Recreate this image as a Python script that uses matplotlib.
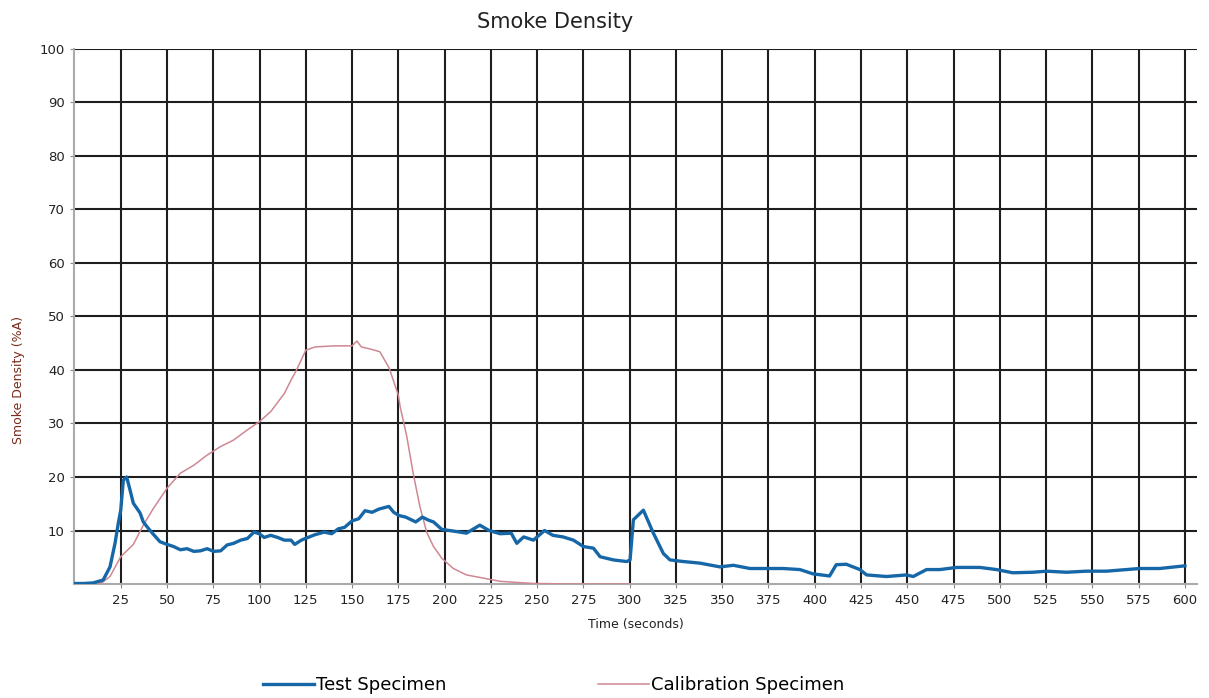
import numpy as np
import matplotlib.pyplot as plt

# test specimen (blue)
test_t = [0, 5, 10, 15.5, 19.2, 21.9, 23.7, 25, 26.4, 28.2, 30, 31.8, 33.6, 35.4, 37.2, 39.9,
          42.6, 46.2, 50, 53.6, 57.2, 60.8, 64.5, 68, 71.7, 75.2, 79, 82.5, 86, 89.8, 93.4,
          97, 99.8, 102.5, 106, 109.8, 113.4, 117, 119, 122.6, 126.2, 129.8, 135, 139, 142.5,
          146, 150, 153.6, 157, 160.8, 164.5, 169.9, 172.5, 175.3, 179, 184.4, 188, 191.5,
          194, 198.5, 206.5, 211.8, 219, 224, 230, 236, 239, 242.7, 248, 254, 258.5, 264,
          269.6, 275, 280.4, 284, 291.2, 298.4, 300.2, 302, 307.4, 312.8, 318.2, 321.8, 329,
          338, 348.8, 356, 365, 374, 383, 392, 399, 408, 411.6, 417, 424.4, 428, 438.8,
          449.6, 453.2, 460.4, 467.6, 476.6, 489.2, 498.2, 507, 518, 525.2, 536, 546.8,
          557.6, 568.4, 575.6, 586.4, 600]
test_v = [0.1, 0.1, 0.2, 0.75, 3.2, 7.6, 11.4, 13.8, 19.4, 20.0, 17.6, 15.1, 14.2, 13.3, 11.6, 10.4,
          9.3, 7.9, 7.4, 7.0, 6.4, 6.6, 6.1, 6.2, 6.6, 6.1, 6.2, 7.3, 7.6, 8.2, 8.5,
          9.7, 9.4, 8.7, 9.1, 8.7, 8.2, 8.2, 7.4, 8.2, 8.7, 9.2, 9.7, 9.4, 10.3,
          10.6, 11.8, 12.2, 13.7, 13.4, 14.0, 14.5, 13.4, 12.8, 12.5, 11.6, 12.5, 11.9,
          11.6, 10.2, 9.8, 9.5, 11.0, 10.0, 9.4, 9.5, 7.6, 8.8, 8.2, 10.0, 9.1, 8.8,
          8.2, 7.0, 6.7, 5.1, 4.5, 4.2, 4.5, 12.0, 13.8, 9.5, 5.7, 4.5, 4.2,
          3.9, 3.2, 3.5, 2.9, 2.9, 2.9, 2.7, 1.9, 1.5, 3.6, 3.7, 2.7, 1.7, 1.4,
          1.7, 1.4, 2.7, 2.7, 3.1, 3.1, 2.7, 2.1, 2.2, 2.4, 2.2, 2.4,
          2.4, 2.7, 2.9, 2.9, 3.4]

# calibration specimen (pink)
cal_t = [0, 10, 15, 19.2, 25, 31.8, 37.2, 42.6, 50, 57.2, 64.5, 71.7, 79, 86, 93.4, 99.8,
         106, 113.4, 117, 120, 125, 130, 140, 150, 152.6, 155, 160, 165, 170, 175, 176,
         179.6, 183, 186.7, 190.3, 194, 198.5, 204.7, 211.8, 221, 230, 248, 270, 300]
cal_v = [0, 0.1, 0.3, 1.4, 5.1, 7.4, 11.0, 14.1, 17.9, 20.7, 22.2, 24.1, 25.7, 26.9, 28.8, 30.3,
         32.2, 35.6, 38.1, 40.0, 43.7, 44.3, 44.5, 44.5, 45.4, 44.3, 43.9, 43.4, 40.4, 35.3, 33.1,
         27.5, 20.7, 14.4, 9.7, 7.0, 4.8, 2.9, 1.7, 1.1, 0.5, 0.1, 0.0, 0.0]

x_ticks = list(range(25, 601, 25))
y_ticks = list(range(10, 101, 10))

fig = plt.figure(figsize=(12.09, 6.98), dpi=100)
ax = fig.add_axes([0.0616, 0.1633, 0.9284, 0.7667])

cal_line, = ax.plot(cal_t, cal_v, color="#cf8893", linewidth=1.1, label="Calibration Specimen", zorder=3)
test_line, = ax.plot(test_t, test_v, color="#1667a8", linewidth=2.4, label="Test Specimen", zorder=4)

ax.set_xlim(0, 606.5)
ax.set_ylim(0, 100)
ax.set_xticks(x_ticks)
ax.set_yticks(y_ticks)
ax.grid(True, color="#1e1e1e", linewidth=1.5)
ax.set_axisbelow(True)
ax.tick_params(axis="both", length=3, color="#888888", labelsize=9.5, labelcolor="#222222", pad=4)
for s in ["top", "right"]:
    ax.spines[s].set_visible(False)
for s in ["left", "bottom"]:
    ax.spines[s].set_color("#aaaaaa")
    ax.spines[s].set_linewidth(1.5)

fig.text(0.459, 0.968, "Smoke Density", ha="center", va="center", fontsize=15, color="#222222")
ax.set_xlabel("Time (seconds)", fontsize=9, color="#222222", labelpad=8)
fig.text(0.015, 0.455, "Smoke Density (%A)", rotation=90, ha="center", va="center",
         fontsize=9, color="#7a2a1a")

# two separate one-entry legends below the plot
leg_font = {"family": ["Liberation Sans Narrow", "DejaVu Sans"], "size": 13}
leg1 = fig.legend(handles=[test_line], loc="center left", bbox_to_anchor=(254 / 1209, 1 - 685 / 698),
                  frameon=False, borderpad=0, handlelength=2.8, handletextpad=0.15, prop=leg_font)
leg2 = fig.legend(handles=[cal_line], loc="center left", bbox_to_anchor=(589 / 1209, 1 - 685 / 698),
                  frameon=False, borderpad=0, handlelength=2.8, handletextpad=0.15, prop=leg_font)

fig.savefig("out.png", dpi=100)
